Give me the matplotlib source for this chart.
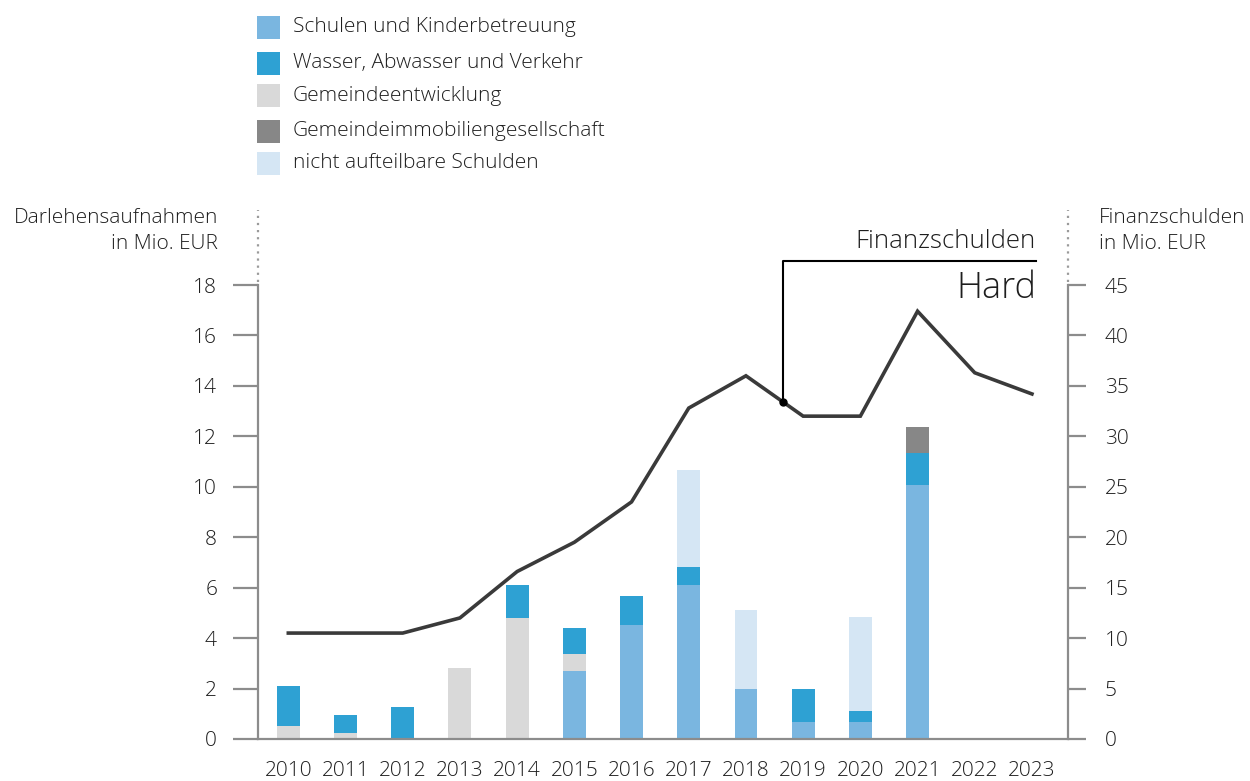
import matplotlib
matplotlib.use("Agg")
import matplotlib.pyplot as plt
from matplotlib.patches import Rectangle
from matplotlib.lines import Line2D
import numpy as np

plt.rcParams['font.family'] = ['Open Sans', 'DejaVu Sans']

years = ["2010", "2011", "2012", "2013", "2014", "2015", "2016", "2017",
         "2018", "2019", "2020", "2021", "2022", "2023"]
schulen = [0, 0, 0, 0, 0, 2.7, 4.52, 6.1, 1.98, 0.67, 0.67, 10.07, 0, 0]
wasser = [1.6, 0.73, 1.27, 0, 1.3, 1.03, 1.15, 0.72, 0, 1.31, 0.43, 1.27, 0, 0]
gemeinde = [0.52, 0.22, 0, 2.82, 4.8, 0.67, 0, 0, 0, 0, 0, 0, 0, 0]
immob = [0, 0, 0, 0, 0, 0, 0, 0, 0, 0, 0, 1.03, 0, 0]
nicht = [0, 0, 0, 0, 0, 0, 0, 3.85, 3.13, 0, 3.74, 0, 0, 0]
finanzschulden = [10.5, 10.5, 10.5, 12.0, 16.6, 19.5, 23.5, 32.8, 36.0,
                  32.0, 32.0, 42.4, 36.3, 34.2]

series = [
    ("Schulen und Kinderbetreuung", schulen, "#7ab6e0"),
    ("Wasser, Abwasser und Verkehr", wasser, "#2ea1d3"),
    ("Gemeindeentwicklung", gemeinde, "#d9d9d9"),
    ("Gemeindeimmobiliengesellschaft", immob, "#878787"),
    ("nicht aufteilbare Schulden", nicht, "#d5e6f4"),
]
# stacking order from bottom: Schulen, Gemeindeentwicklung, Wasser, nicht aufteilbar, Immob
stack_order = [0, 2, 1, 4, 3]

TXT = "#1e1e1e"
FS = 15

W, H = 1250, 781
fig = plt.figure(figsize=(12.5, 7.81), dpi=100)
ax_left, ax_right, ax_bottom, ax_top = 258, 1068, 739, 285
ax = fig.add_axes([ax_left / W, 1 - ax_bottom / H, (ax_right - ax_left) / W,
                   (ax_bottom - ax_top) / H])
ax2 = ax.twinx()

x = np.arange(len(years))
bottom = np.zeros(len(years))
for i in stack_order:
    name, vals, col = series[i]
    v = np.array(vals)
    ax.bar(x, v, width=0.4, bottom=bottom, color=col, linewidth=0, zorder=2)
    bottom += v

ax2.plot(x, finanzschulden, color="#3a3a3a", lw=2.6, zorder=3,
         solid_joinstyle="miter")

ax.set_xlim(-0.53, 13.63)
ax.set_ylim(0, 18)
ax2.set_ylim(0, 45)
ax.set_yticks(np.arange(0, 19, 2))
ax2.set_yticks(np.arange(0, 46, 5))
ax.set_xticks(x)
ax.set_xticklabels(years)

spine_col = "#8c8c8c"
for a in (ax, ax2):
    a.spines["top"].set_visible(False)
    for s in ("left", "right", "bottom"):
        a.spines[s].set_color(spine_col)
        a.spines[s].set_linewidth(1.6)
ax.spines["right"].set_visible(False)
ax2.spines["left"].set_visible(False)
ax2.spines["bottom"].set_visible(False)

ax.tick_params(axis="y", length=18, width=1.6, color=spine_col, labelsize=FS,
               pad=11.5, labelcolor=TXT)
ax2.tick_params(axis="y", length=13, width=1.6, color=spine_col, labelsize=FS,
                pad=13.5, labelcolor=TXT)
ax.tick_params(axis="x", length=0, labelsize=FS, pad=16, labelcolor=TXT)
for lab in ax.get_yticklabels() + ax2.get_yticklabels() + ax.get_xticklabels():
    lab.set_fontweight("light")

# dotted extensions above axes
for xp in (ax_left, ax_right):
    fig.add_artist(Line2D([xp / W, xp / W], [1 - 282 / H, 1 - 210 / H],
                          color="#9a9a9a", lw=1.6, ls=(0, (1, 2.2))))

# axis titles
fig.text(218 / W, 1 - 218 / H, "Darlehensaufnahmen", ha="right", va="center",
         fontsize=FS, color=TXT, fontweight="light")
fig.text(218 / W, 1 - 244 / H, "in Mio. EUR", ha="right", va="center",
         fontsize=FS, color=TXT, fontweight="light")
fig.text(1099 / W, 1 - 218 / H, "Finanzschulden", ha="left", va="center",
         fontsize=FS, color=TXT, fontweight="light")
fig.text(1099 / W, 1 - 244 / H, "in Mio. EUR", ha="left", va="center",
         fontsize=FS, color=TXT, fontweight="light")

# annotation
xa = 8.65
ya = finanzschulden[8] + (finanzschulden[9] - finanzschulden[8]) * 0.65
ax2.plot([xa], [ya], "o", color="black", ms=5, zorder=4)
xa_fig = ax_left + (xa + 0.53) / (13.63 + 0.53) * (ax_right - ax_left)
ya_fig = ax_bottom - ya / 45 * (ax_bottom - ax_top)
fig.add_artist(Line2D([xa_fig / W, xa_fig / W, 1036 / W],
                      [1 - ya_fig / H, 1 - 261 / H, 1 - 261 / H],
                      color="black", lw=1.5))
fig.text(1036 / W, 1 - 254 / H, "Finanzschulden", ha="right", va="bottom",
         fontsize=18.5, color=TXT, fontweight="light")
fig.text(1036 / W, 1 - 288 / H, "Hard", ha="right", va="center",
         fontsize=26, color=TXT, fontweight="light")

# legend
leg_rows = [27, 63, 95.5, 131, 163]
for (name, vals, col), yc in zip(series, leg_rows):
    fig.add_artist(Rectangle((257 / W, 1 - (yc + 11.5) / H), 23 / W, 23 / H,
                             facecolor=col, edgecolor="none",
                             transform=fig.transFigure))
    fig.text(293 / W, 1 - yc / H, name, ha="left", va="center", fontsize=FS,
             color=TXT, fontweight="light")

fig.savefig("out.png", dpi=100)
